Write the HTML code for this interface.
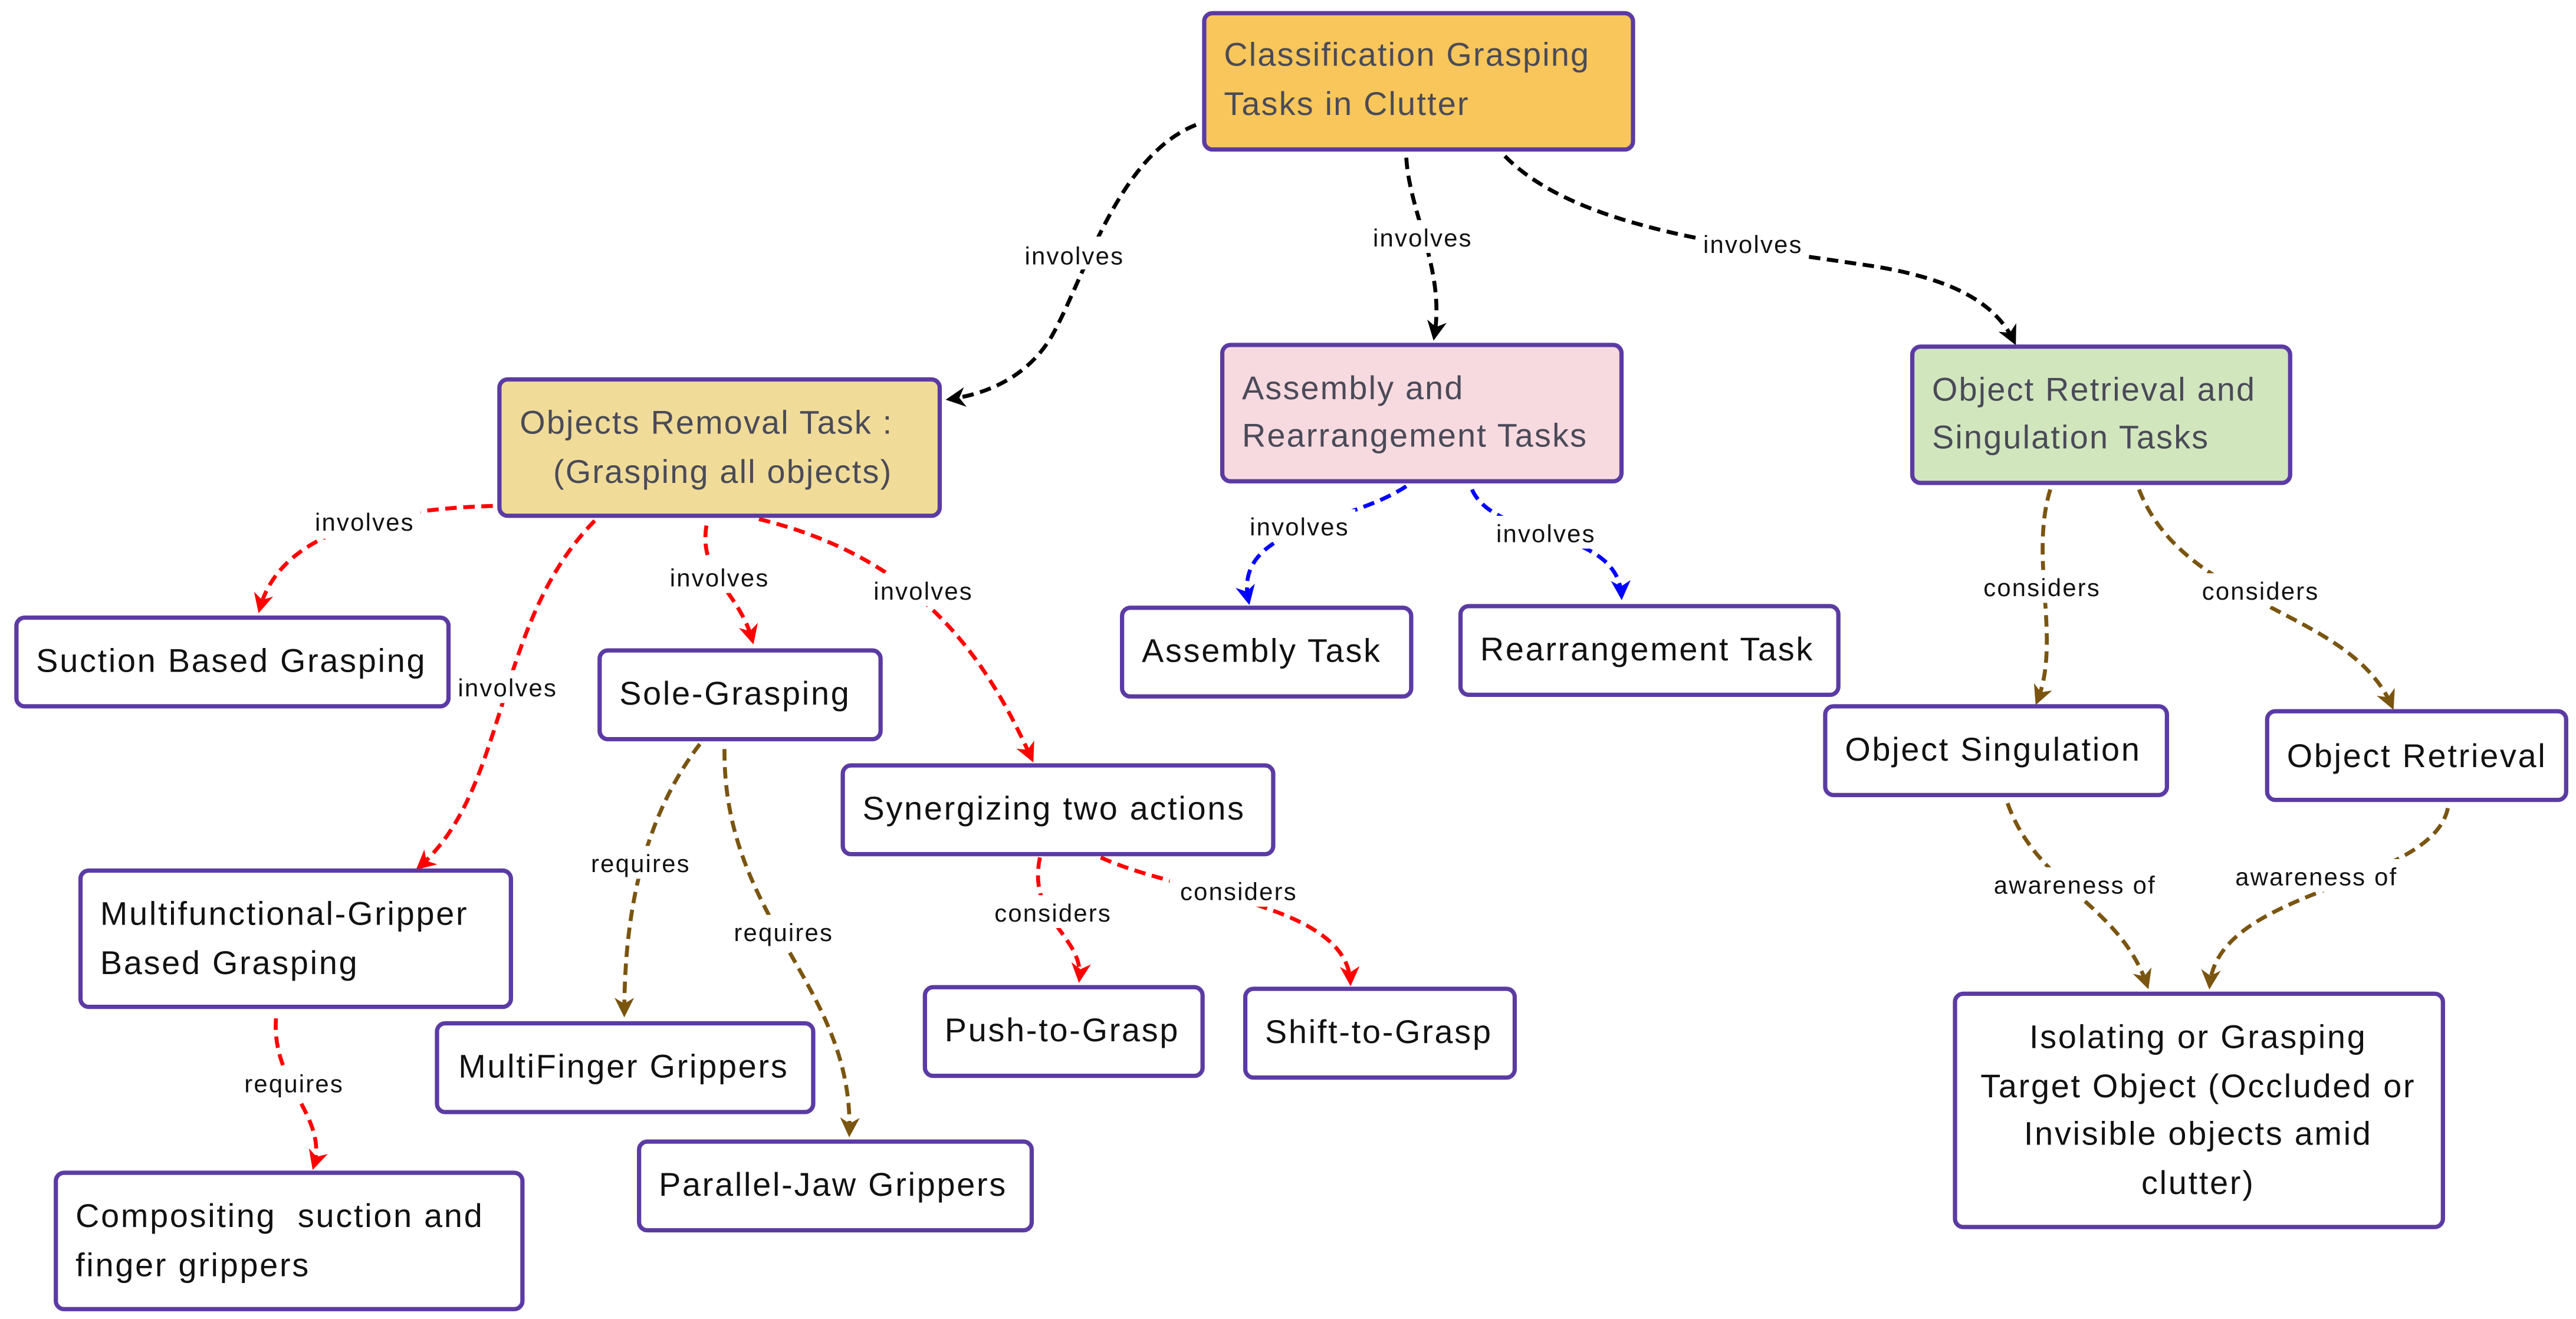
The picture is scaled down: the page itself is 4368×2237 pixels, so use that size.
<!DOCTYPE html>
<html><head><meta charset="utf-8"><style>
html,body{margin:0;padding:0;background:#fff;width:4368px;height:2237px;overflow:hidden}
svg{display:block}
text{font-family:"Liberation Sans",sans-serif}
.n{font-size:20px;fill:#111;letter-spacing:1px}
.h{font-size:20px;fill:#4a4a58;letter-spacing:0.8px}
.l{font-size:15px;fill:#111;letter-spacing:0.8px}
.b{stroke:#5b3ba3;stroke-width:2.6}
.c{fill:none;stroke-width:2.4;stroke-dasharray:7 4}
</style></head><body>
<svg width="4368" height="2237" viewBox="0 0 1568 803" xmlns="http://www.w3.org/2000/svg">
<defs>
<marker id="mk" viewBox="0 0 10 10" refX="8" refY="5" markerWidth="5" markerHeight="5" orient="auto"><path d="M0,0L10,5L0,10L3,5z" fill="#000"/></marker>
<marker id="mr" viewBox="0 0 10 10" refX="8" refY="5" markerWidth="5" markerHeight="5" orient="auto"><path d="M0,0L10,5L0,10L3,5z" fill="#f00"/></marker>
<marker id="mb" viewBox="0 0 10 10" refX="8" refY="5" markerWidth="5" markerHeight="5" orient="auto"><path d="M0,0L10,5L0,10L3,5z" fill="#00f"/></marker>
<marker id="mn" viewBox="0 0 10 10" refX="8" refY="5" markerWidth="5" markerHeight="5" orient="auto"><path d="M0,0L10,5L0,10L3,5z" fill="#7a5510"/></marker>
</defs>
<g class="c" stroke="#000">
<path d="M728,76 C680,95 660,170 640,205 C625,230 600,240 578,243" marker-end="url(#mk)"/>
<path d="M856,96 C858,130 880,165 873,205" marker-end="url(#mk)"/>
<path d="M916,95 C960,140 1060,150 1140,162 C1190,170 1215,185 1226,208" marker-end="url(#mk)"/>
</g>
<g class="c" stroke="#f00">
<path d="M300,308 C230,310 170,325 158,371" marker-end="url(#mr)"/>
<path d="M362,317 C300,380 310,480 255,528" marker-end="url(#mr)"/>
<path d="M430,320 C425,350 450,360 458,390" marker-end="url(#mr)"/>
<path d="M462,316 C560,340 600,400 628,462" marker-end="url(#mr)"/>
<path d="M633,522 C625,560 660,570 657,596" marker-end="url(#mr)"/>
<path d="M670,522 C720,545 820,550 822,598" marker-end="url(#mr)"/>
<path d="M168,620 C165,660 200,680 191,710" marker-end="url(#mr)"/>
</g>
<g class="c" stroke="#7a5510">
<path d="M426,453 C390,500 380,560 380,617" marker-end="url(#mn)"/>
<path d="M441,456 C440,560 520,600 517,690" marker-end="url(#mn)"/>
<path d="M1248,298 C1235,340 1255,390 1240,427" marker-end="url(#mn)"/>
<path d="M1302,298 C1330,370 1430,370 1456,430" marker-end="url(#mn)"/>
<path d="M1222,489 C1240,540 1290,550 1307,600" marker-end="url(#mn)"/>
<path d="M1490,492 C1480,540 1350,540 1345,600" marker-end="url(#mn)"/>
</g>
<g class="c" stroke="#00f">
<path d="M856,296 C820,320 750,320 760,366" marker-end="url(#mb)"/>
<path d="M896,298 C910,330 985,320 987,363" marker-end="url(#mb)"/>
</g>
<g class="l" text-anchor="middle">
<rect x="620" y="144" width="68" height="20" fill="#fff"/><text x="654" y="161">involves</text>
<rect x="832" y="134" width="68" height="20" fill="#fff"/><text x="866" y="150">involves</text>
<rect x="1033" y="138" width="68" height="20" fill="#fff"/><text x="1067" y="154">involves</text>
<rect x="188" y="308" width="68" height="20" fill="#fff"/><text x="222" y="323">involves</text>
<rect x="275" y="408" width="68" height="20" fill="#fff"/><text x="309" y="424">involves</text>
<rect x="404" y="341" width="68" height="20" fill="#fff"/><text x="438" y="357">involves</text>
<rect x="528" y="349" width="68" height="20" fill="#fff"/><text x="562" y="365">involves</text>
<rect x="600" y="545" width="84" height="20" fill="#fff"/><text x="641" y="561">considers</text>
<rect x="712" y="532" width="84" height="20" fill="#fff"/><text x="754" y="548">considers</text>
<rect x="145" y="649" width="68" height="20" fill="#fff"/><text x="179" y="665">requires</text>
<rect x="356" y="515" width="68" height="20" fill="#fff"/><text x="390" y="531">requires</text>
<rect x="443" y="557" width="68" height="20" fill="#fff"/><text x="477" y="573">requires</text>
<rect x="1201" y="347" width="84" height="20" fill="#fff"/><text x="1243" y="363">considers</text>
<rect x="1334" y="349" width="84" height="20" fill="#fff"/><text x="1376" y="365">considers</text>
<rect x="1205" y="528" width="116" height="20" fill="#fff"/><text x="1263" y="544">awareness of</text>
<rect x="1352" y="523" width="116" height="20" fill="#fff"/><text x="1410" y="539">awareness of</text>
<rect x="757" y="310" width="68" height="20" fill="#fff"/><text x="791" y="326">involves</text>
<rect x="907" y="314" width="68" height="20" fill="#fff"/><text x="941" y="330">involves</text>
</g>
<rect class="b" x="733" y="8" width="261" height="83" rx="5" fill="#f8c65a"/>
<text class="h" x="745" y="40">Classification Grasping</text><text class="h" x="745" y="70">Tasks in Clutter</text>
<rect class="b" x="304" y="231" width="268" height="83" rx="5" fill="#f0dc98"/>
<text class="h" text-anchor="middle" x="430" y="264">Objects Removal Task :</text><text class="h" text-anchor="middle" x="440" y="294">(Grasping all objects)</text>
<rect class="b" x="744" y="210" width="243" height="83" rx="5" fill="#f7d9e0"/>
<text class="h" x="756" y="243">Assembly and</text><text class="h" x="756" y="272">Rearrangement Tasks</text>
<rect class="b" x="1164" y="211" width="230" height="83" rx="5" fill="#d2e6be"/>
<text class="h" x="1176" y="244">Object Retrieval and</text><text class="h" x="1176" y="273">Singulation Tasks</text>
<g fill="#fff">
<rect class="b" x="10" y="376" width="263" height="54" rx="5"/>
<rect class="b" x="365" y="396" width="171" height="54" rx="5"/>
<rect class="b" x="513" y="466" width="262" height="54" rx="5"/>
<rect class="b" x="49" y="530" width="262" height="83" rx="5"/>
<rect class="b" x="266" y="623" width="229" height="54" rx="5"/>
<rect class="b" x="389" y="695" width="239" height="54" rx="5"/>
<rect class="b" x="34" y="714" width="284" height="83" rx="5"/>
<rect class="b" x="563" y="601" width="169" height="54" rx="5"/>
<rect class="b" x="758" y="602" width="164" height="54" rx="5"/>
<rect class="b" x="683" y="370" width="176" height="54" rx="5"/>
<rect class="b" x="889" y="369" width="230" height="54" rx="5"/>
<rect class="b" x="1111" y="430" width="208" height="54" rx="5"/>
<rect class="b" x="1380" y="433" width="182" height="54" rx="5"/>
<rect class="b" x="1190" y="605" width="297" height="142" rx="5"/>
</g>
<g class="n">
<text x="22" y="409">Suction Based Grasping</text>
<text x="377" y="429">Sole-Grasping</text>
<text x="525" y="499">Synergizing two actions</text>
<text x="61" y="563">Multifunctional-Gripper</text><text x="61" y="593">Based Grasping</text>
<text x="279" y="656">MultiFinger Grippers</text>
<text x="401" y="728">Parallel-Jaw Grippers</text>
<text x="46" y="747">Compositing &#160;suction and</text><text x="46" y="777">finger grippers</text>
<text x="575" y="634">Push-to-Grasp</text>
<text x="770" y="635">Shift-to-Grasp</text>
<text x="695" y="403">Assembly Task</text>
<text x="901" y="402">Rearrangement Task</text>
<text x="1123" y="463">Object Singulation</text>
<text x="1392" y="467">Object Retrieval</text>
<g text-anchor="middle"><text x="1338" y="638">Isolating or Grasping</text><text x="1338" y="668">Target Object (Occluded or</text><text x="1338" y="697">Invisible objects amid</text><text x="1338" y="727">clutter)</text></g>
</g>
</svg>
</body></html>
